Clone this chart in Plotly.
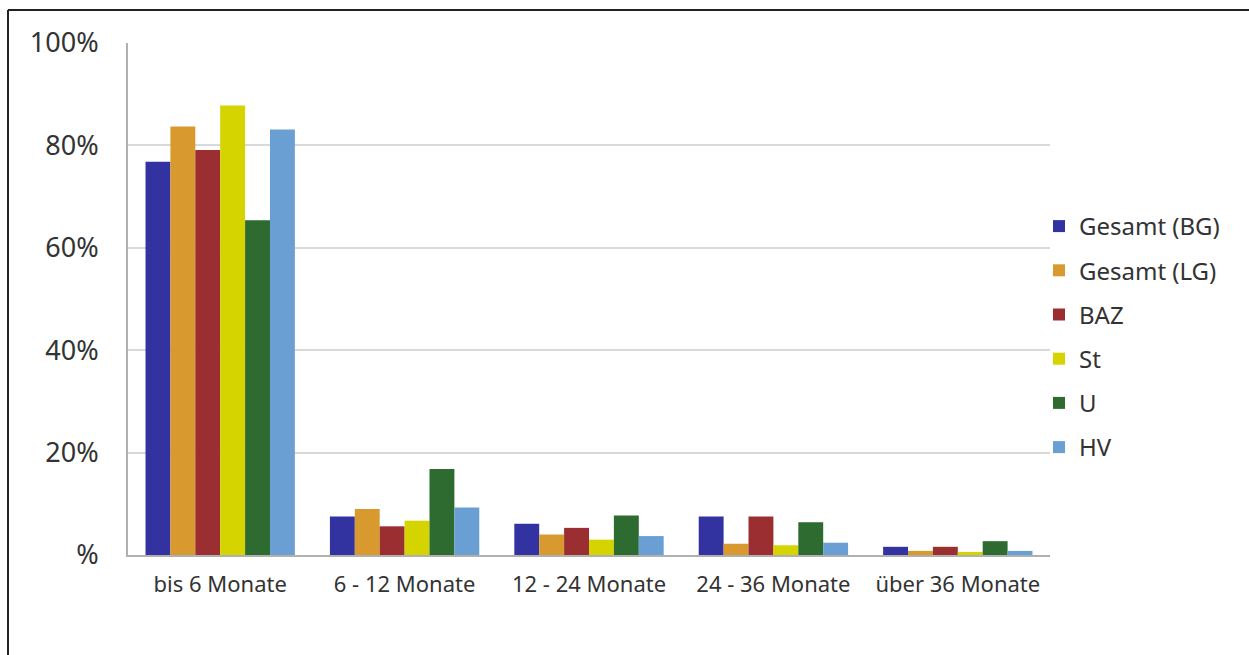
import plotly.graph_objects as go

categories = ["bis 6 Monate", "6 - 12 Monate", "12 - 24 Monate", "24 - 36 Monate", "über 36 Monate"]
series_names = ["Gesamt (BG)", "Gesamt (LG)", "BAZ", "St", "U", "HV"]
gesamt_bg = [76.8, 7.5, 6.1, 7.5, 1.6]
gesamt_lg = [83.7, 9.0, 4.0, 2.2, 0.8]
baz = [79.1, 5.6, 5.3, 7.5, 1.6]
st = [87.8, 6.7, 3.0, 1.9, 0.6]
u = [65.4, 16.8, 7.7, 6.4, 2.7]
hv = [83.1, 9.3, 3.7, 2.4, 0.8]
series_values = [gesamt_bg, gesamt_lg, baz, st, u, hv]
colors = ["#3232a0", "#d8992f", "#9b2e31", "#d5d300", "#2e6b30", "#6a9fd4"]
y_tickvals = [0, 20, 40, 60, 80, 100]
y_ticktext = ["%", "20%", "40%", "60%", "80%", "100%"]

FONT = "Noto Sans"
fig = go.Figure()
for i, (name, vals, col) in enumerate(zip(series_names, series_values, colors)):
    fig.add_trace(go.Bar(
        x=categories, y=vals, name=name, legendgroup=f"g{i}",
        marker=dict(color=col, line=dict(width=0)),
    ))

L, R, T, B = 128, 199, 43, 100
W, H = 1249, 655
pw, ph = W - L - R, H - T - B

def px(x):
    return (x - L) / pw

def py(y):
    return (H - B - y) / ph

fig.update_layout(
    width=W, height=H,
    margin=dict(l=L, r=R, t=T, b=B),
    paper_bgcolor="white", plot_bgcolor="white",
    barmode="group", bargap=0.19, bargroupgap=0,
    font=dict(family=FONT, color="#333333"),
    legend=dict(
        x=px(1039), xanchor="left", y=py(204), yanchor="top",
        font=dict(size=24, color="#333333"),
        itemwidth=30,
        tracegroupgap=10, bgcolor="rgba(0,0,0,0)",
    ),
    showlegend=True,
    xaxis=dict(
        showline=True, linecolor="#b0b0b0", linewidth=2,
        showgrid=False, ticks="", tickfont=dict(size=22, color="#333333"),
        ticklabelstandoff=9,
    ),
    yaxis=dict(
        range=[0, 100], tickvals=y_tickvals, ticktext=y_ticktext,
        showgrid=True, gridcolor="#d9d9d9", gridwidth=1.5,
        showline=True, linecolor="#b0b0b0", linewidth=2,
        zeroline=False, ticks="", tickfont=dict(size=27, color="#333333"),
        ticklabelstandoff=22,
    ),
    shapes=[
        dict(type="line", xref="paper", yref="paper",
             x0=px(8), x1=px(8), y0=py(655), y1=py(10),
             line=dict(color="#222222", width=2)),
        dict(type="line", xref="paper", yref="paper",
             x0=px(8), x1=px(1249), y0=py(10), y1=py(10),
             line=dict(color="#222222", width=2)),
    ],
)

fig.write_html("out.html", config={"displayModeBar": False},
               post_script="document.body.style.margin='0';")
